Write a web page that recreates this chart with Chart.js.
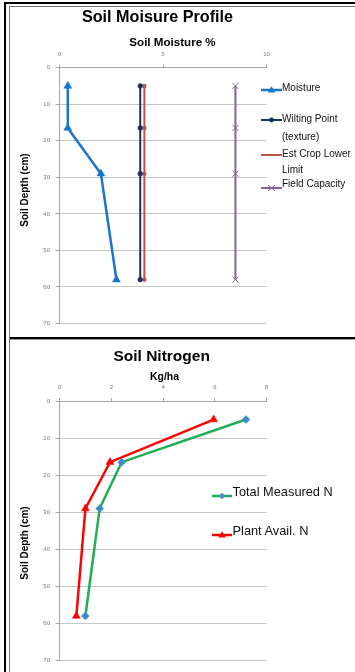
<!DOCTYPE html>
<html><head><meta charset="utf-8">
<script src="https://cdn.jsdelivr.net/npm/chart.js@4/dist/chart.umd.min.js"></script>
<style>
html,body{margin:0;padding:0;background:#fff;}
body{width:355px;height:672px;position:relative;overflow:hidden;font-family:"Liberation Sans",Arial,sans-serif;}
.abs{position:absolute;}
.t{position:absolute;text-align:center;white-space:nowrap;color:#000;font-weight:bold;}
.leg{position:absolute;white-space:nowrap;color:#111;}
canvas{position:absolute;left:0;}
</style></head><body>
<script>
// ---- data ----
const depths = [5, 16.5, 29, 58];
const moisture = [0.4, 0.4, 2.0, 2.75];
const wiltingPoint = [3.9, 3.9, 3.9, 3.9];
const cropLowerLimit = [4.1, 4.1, 4.1, 4.1];
const fieldCapacity = [8.5, 8.5, 8.5, 8.5];
const totalN = [7.2, 2.4, 1.55, 1.0];
const plantAvailN = [5.95, 1.95, 1.0, 0.65];
const moistureTicks = [0, 5, 10];
const nitrogenTicks = [0, 2, 4, 6, 8];
const depthTicks = [0, 10, 20, 30, 40, 50, 60, 70];
const moistureLegend = ["Moisture", "Wilting Point (texture)", "Est Crop Lower Limit", "Field Capacity"];
const nitrogenLegend = ["Total Measured N", "Plant Avail. N"];
</script>

<!-- frame -->
<div class="abs" style="left:4px;top:2px;width:2px;height:670px;background:#000"></div>
<div class="abs" style="left:9px;top:6px;width:1px;height:666px;background:#777"></div>
<div class="abs" style="left:4px;top:2px;width:351px;height:2px;background:#000"></div>
<div class="abs" style="left:9px;top:6px;width:346px;height:1px;background:#777"></div>
<div class="abs" style="left:10px;top:337px;width:345px;height:2px;background:#000"></div>
<div class="abs" style="left:10px;top:339px;width:345px;height:1px;background:#999"></div>

<canvas id="c1" width="355" height="338" style="top:0"></canvas>
<canvas id="c2" width="355" height="334" style="top:338px"></canvas>

<div class="t" style="left:57.5px;width:200px;top:6px;font-size:16.2px;line-height:20px;">Soil Moisure Profile</div>
<div class="t" style="left:72.5px;width:200px;top:33.5px;font-size:11.6px;line-height:15px;">Soil Moisture %</div>
<div class="t" style="left:-25px;width:100px;top:182.5px;font-size:10px;line-height:14px;transform:rotate(-90deg);">Soil Depth (cm)</div>

<div class="t" style="left:61.7px;width:200px;top:345.5px;font-size:15.5px;line-height:20px;">Soil Nitrogen</div>
<div class="t" style="left:64.5px;width:200px;top:370px;font-size:10.4px;line-height:14px;">Kg/ha</div>
<div class="t" style="left:-25px;width:100px;top:535.5px;font-size:10px;line-height:14px;transform:rotate(-90deg);">Soil Depth (cm)</div>

<div id="leg1"></div>
<div id="leg2"></div>

<script>
function sample(x, y, w, color, lw, marker, mcolor) {
  let m = '';
  const cx = w / 2, cy = 5;
  if (marker === 'tri') m = `<polygon points="${cx-3.8},${cy+2.5} ${cx+3.8},${cy+2.5} ${cx},${cy-3.8}" fill="${mcolor}"/>`;
  if (marker === 'dot') m = `<circle cx="${cx}" cy="${cy}" r="2.4" fill="${mcolor}"/>`;
  if (marker === 'small') m = `<circle cx="${cx}" cy="${cy}" r="1.2" fill="${mcolor}"/>`;
  if (marker === 'x') m = `<path d="M${cx-3.5},${cy-3} L${cx+3.5},${cy+3} M${cx+3.5},${cy-3} L${cx-3.5},${cy+3}" stroke="${mcolor}" stroke-width="1"/>`;
  if (marker === 'dia') m = `<polygon points="${cx},${cy-3.3} ${cx+3.3},${cy} ${cx},${cy+3.3} ${cx-3.3},${cy}" fill="${mcolor}"/>`;
  return `<svg class="abs" style="left:${x}px;top:${y-5}px" width="${w}" height="10"><line x1="0" y1="${cy}" x2="${w}" y2="${cy}" stroke="${color}" stroke-width="${lw}"/>${m}</svg>`;
}
// top legend
let h1 = '';
h1 += sample(261, 90, 21, '#1a75c9', 2.5, 'tri', '#1a75c9');
h1 += `<div class="leg" style="left:282px;top:81px;font-size:10px;line-height:13px">${moistureLegend[0]}</div>`;
h1 += sample(261, 120, 21, '#1b2f5a', 2, 'dot', '#1b2f5a');
h1 += `<div class="leg" style="left:282px;top:110px;font-size:10px;line-height:17.5px">Wilting Point<br>(texture)</div>`;
h1 += sample(261, 154.5, 21, '#c0504d', 2, 'small', '#c0504d');
h1 += `<div class="leg" style="left:282px;top:146px;font-size:10px;line-height:16px">Est Crop Lower<br>Limit</div>`;
h1 += sample(261, 187.5, 21, '#8064a2', 2, 'x', '#8064a2');
h1 += `<div class="leg" style="left:282px;top:177px;font-size:10px;line-height:13px">${moistureLegend[3]}</div>`;
document.getElementById('leg1').innerHTML = h1;
let h2 = '';
h2 += sample(212, 495.5, 20, '#1fae55', 2.5, 'dia', '#3d8ec4');
h2 += `<div class="leg" style="left:232.5px;top:483.5px;font-size:12.8px;line-height:16px">${nitrogenLegend[0]}</div>`;
h2 += sample(212, 535, 20, '#ff0000', 2.5, 'tri', '#ff0000');
h2 += `<div class="leg" style="left:232.5px;top:522.5px;font-size:12.8px;line-height:16px">${nitrogenLegend[1]}</div>`;
document.getElementById('leg2').innerHTML = h2;

function pts(xs) { return xs.map((v, i) => ({ x: v, y: depths[i] })); }

function makeChart(id, datasets, xmax, xticks, topH, padR, padB) {
  new Chart(document.getElementById(id), {
    type: 'scatter',
    data: { datasets },
    options: {
      responsive: false, animation: false, devicePixelRatio: 1,
      layout: { padding: { left: 0, top: 0, right: padR, bottom: padB } },
      plugins: { legend: { display: false }, tooltip: { enabled: false }, title: { display: false } },
      scales: {
        x: {
          type: 'linear', position: 'top', min: 0, max: xmax,
          afterBuildTicks: s => { s.ticks = xticks.map(v => ({ value: v })); },
          afterFit: s => { s.height = topH; },
          ticks: { font: { size: 6, family: 'Liberation Sans' }, color: '#777', padding: 7, maxRotation: 0 },
          grid: { drawOnChartArea: false, tickLength: 3, color: '#a6a6a6' },
          border: { color: '#a6a6a6', width: 1 }
        },
        y: {
          type: 'linear', reverse: true, min: 0, max: 70,
          afterBuildTicks: s => { s.ticks = depthTicks.map(v => ({ value: v })); },
          afterFit: s => { s.width = 59.5; },
          ticks: { font: { size: 6, family: 'Liberation Sans' }, color: '#777', padding: 5.5 },
          grid: { color: '#c4c4c4', tickLength: 4, tickColor: '#a6a6a6' },
          border: { color: '#a6a6a6', width: 1 }
        }
      }
    }
  });
}

makeChart('c1', [
  { label: moistureLegend[0], data: pts(moisture), showLine: true, borderColor: '#1a75c9', backgroundColor: '#1a75c9', borderWidth: 2.5, pointStyle: 'triangle', pointRadius: 4.6, pointBorderWidth: 0.5 },
  { label: moistureLegend[1], data: pts(wiltingPoint), showLine: true, borderColor: '#1b2f5a', backgroundColor: '#1b2f5a', borderWidth: 2, pointStyle: 'circle', pointRadius: 2.4, pointBorderWidth: 0.5 },
  { label: moistureLegend[2], data: pts(cropLowerLimit), showLine: true, borderColor: '#c0504d', backgroundColor: '#c0504d', borderWidth: 2, pointStyle: 'circle', pointRadius: 1.2 },
  { label: moistureLegend[3], data: pts(fieldCapacity), showLine: true, borderColor: '#8064a2', backgroundColor: '#8064a2', borderWidth: 2, pointStyle: 'crossRot', pointRadius: 4.3, pointBorderWidth: 1 }
], 10, moistureTicks, 67.7, 88.5, 14.5);

makeChart('c2', [
  { label: nitrogenLegend[0], data: pts(totalN), showLine: true, borderColor: '#1fae55', backgroundColor: '#3d8ec4', pointBorderColor: '#3d8ec4', borderWidth: 2.5, pointStyle: 'rectRot', pointRadius: 4, pointBorderWidth: 0.5 },
  { label: nitrogenLegend[1], data: pts(plantAvailN), showLine: true, borderColor: '#ff0000', backgroundColor: '#ff0000', borderWidth: 2.5, pointStyle: 'triangle', pointRadius: 4.6, pointBorderWidth: 0.5 }
], 8, nitrogenTicks, 63, 88.3, 11.5);
</script>
</body></html>
